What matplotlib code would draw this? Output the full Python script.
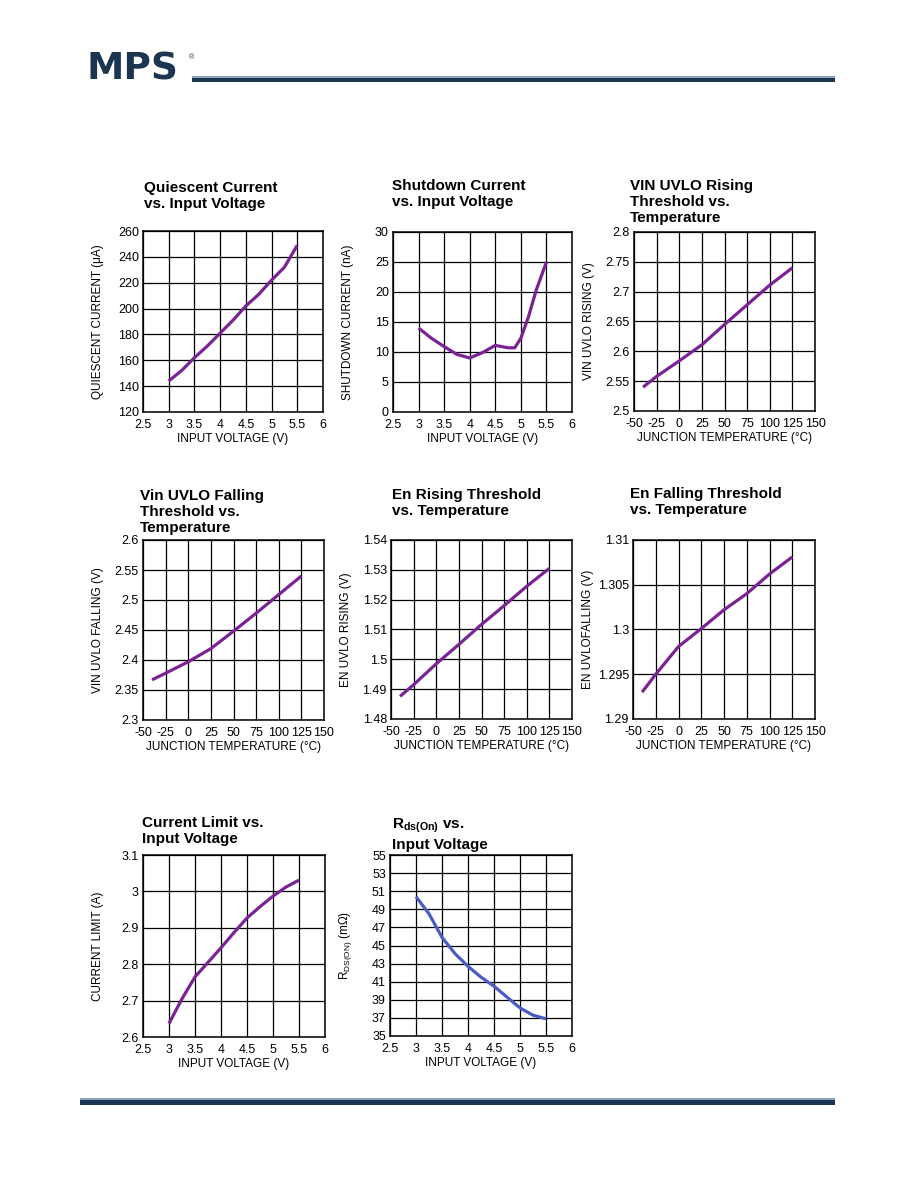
import matplotlib
matplotlib.use("Agg")
import matplotlib.pyplot as plt
import matplotlib.transforms as mtransforms
from matplotlib.patches import Rectangle
import numpy as np

plt.rcParams['font.family'] = ['Liberation Sans', 'DejaVu Sans']
plt.rcParams['mathtext.fontset'] = 'custom'
plt.rcParams['mathtext.rm'] = 'Liberation Sans'
plt.rcParams['mathtext.bf'] = 'Liberation Sans:bold'
plt.rcParams['mathtext.it'] = 'Liberation Sans:italic'

# ---------------- data ----------------
vin_q = [3.0, 3.25, 3.5, 3.75, 4.0, 4.25, 4.5, 4.75, 5.0, 5.25, 5.5]
iq_ua = [144, 152, 162, 171, 181, 191, 202, 211, 222, 232, 249]

vin_sd = [3.0, 3.25, 3.5, 3.75, 4.0, 4.25, 4.5, 4.75, 4.88, 5.0, 5.15, 5.3, 5.5]
isd_na = [14.0, 12.3, 10.9, 9.6, 9.0, 9.9, 11.1, 10.7, 10.7, 12.3, 15.9, 20.3, 25.0]

temp = [-40, -25, 0, 25, 50, 75, 100, 125]
uvlo_rise = [2.540, 2.558, 2.584, 2.611, 2.645, 2.678, 2.711, 2.740]
uvlo_fall = [2.367, 2.378, 2.397, 2.419, 2.448, 2.478, 2.509, 2.540]
en_rise = [1.4876, 1.4915, 1.4985, 1.5050, 1.5117, 1.5180, 1.5245, 1.5305]
en_fall = [1.2930, 1.2950, 1.2981, 1.3001, 1.3022, 1.3040, 1.3062, 1.3081]

vin_cl = [3.0, 3.25, 3.5, 3.75, 4.0, 4.25, 4.5, 4.75, 5.0, 5.25, 5.5]
ilim_a = [2.637, 2.705, 2.765, 2.805, 2.845, 2.887, 2.927, 2.958, 2.987, 3.012, 3.031]

vin_r = [3.0, 3.25, 3.5, 3.75, 4.0, 4.25, 4.5, 4.75, 5.0, 5.25, 5.5]
rds_mohm = [50.4, 48.5, 45.9, 44.1, 42.7, 41.5, 40.5, 39.3, 38.1, 37.3, 36.9]

vin_ticks = [2.5, 3, 3.5, 4, 4.5, 5, 5.5, 6]
temp_ticks = [-50, -25, 0, 25, 50, 75, 100, 125, 150]

W, H = 918, 1188
fig = plt.figure(figsize=(W / 100, H / 100), dpi=100)

PURPLE = '#7a2394'
BLUE = '#4a5cc4'
NAVY = '#1c3550'


def rect(l, t, r, b):
    return [l / W, 1 - b / H, (r - l) / W, (b - t) / H]


def fmt(v):
    s = f"{v:.4f}".rstrip('0').rstrip('.')
    return s


charts = [
    dict(box=(143, 231, 323, 412), x=vin_q, y=iq_ua, xt=vin_ticks, yt=np.arange(120, 261, 20),
         title="Quiescent Current\nvs. Input Voltage", tpos=(144, 189),
         ylabel="QUIESCENT CURRENT (\u03bcA)", xlabel="INPUT VOLTAGE (V)", color=PURPLE),
    dict(box=(393, 232, 572, 412), x=vin_sd, y=isd_na, xt=vin_ticks, yt=np.arange(0, 31, 5),
         title="Shutdown Current\nvs. Input Voltage", tpos=(392, 187),
         ylabel="SHUTDOWN CURRENT (nA)", xlabel="INPUT VOLTAGE (V)", color=PURPLE),
    dict(box=(634, 232, 815, 411), x=temp, y=uvlo_rise, xt=temp_ticks,
         yt=[2.5, 2.55, 2.6, 2.65, 2.7, 2.75, 2.8],
         title="VIN UVLO Rising\nThreshold vs.\nTemperature", tpos=(630, 187),
         ylabel="VIN UVLO RISING (V)", xlabel="JUNCTION TEMPERATURE (\u00b0C)", color=PURPLE),
    dict(box=(143, 540, 324, 720), x=temp, y=uvlo_fall, xt=temp_ticks,
         yt=[2.3, 2.35, 2.4, 2.45, 2.5, 2.55, 2.6],
         title="Vin UVLO Falling\nThreshold vs.\nTemperature", tpos=(140, 497),
         ylabel="VIN UVLO FALLING (V)", xlabel="JUNCTION TEMPERATURE (\u00b0C)", color=PURPLE),
    dict(box=(391, 540, 572, 719), x=temp, y=en_rise, xt=temp_ticks,
         yt=[1.48, 1.49, 1.5, 1.51, 1.52, 1.53, 1.54],
         title="En Rising Threshold\nvs. Temperature", tpos=(392, 496),
         ylabel="EN UVLO RISING (V)", xlabel="JUNCTION TEMPERATURE (\u00b0C)", color=PURPLE),
    dict(box=(633, 540, 815, 719), x=temp, y=en_fall, xt=temp_ticks,
         yt=[1.29, 1.295, 1.3, 1.305, 1.31],
         title="En Falling Threshold\nvs. Temperature", tpos=(630, 495),
         ylabel="EN UVLOFALLING (V)", xlabel="JUNCTION TEMPERATURE (\u00b0C)", color=PURPLE),
    dict(box=(143, 855, 325, 1037), x=vin_cl, y=ilim_a, xt=vin_ticks,
         yt=[2.6, 2.7, 2.8, 2.9, 3.0, 3.1],
         title="Current Limit vs.\nInput Voltage", tpos=(142, 824),
         ylabel="CURRENT LIMIT (A)", xlabel="INPUT VOLTAGE (V)", color=PURPLE),
    dict(box=(390, 855, 572, 1036), x=vin_r, y=rds_mohm, xt=vin_ticks,
         yt=np.arange(35, 56, 2),
         title=r"$\mathbf{R_{ds(On)}}$ vs." + "\nInput Voltage", tpos=(392, 825),
         ylabel=r"R$_{\mathrm{DS(ON)}}$ (m$\Omega$)", xlabel="INPUT VOLTAGE (V)", color=BLUE),
]

shift_up = mtransforms.ScaledTranslation(0, 3 / 100, fig.dpi_scale_trans)

for c in charts:
    l, t, r, b = c['box']
    ax = fig.add_axes(rect(l, t, r, b))
    ax.plot(c['x'], c['y'], color=c['color'], lw=2.3, solid_capstyle='butt')
    xt = list(c['xt']); yt = list(c['yt'])
    ax.set_xlim(xt[0], xt[-1])
    ax.set_ylim(yt[0], yt[-1])
    ax.set_xticks(xt)
    ax.set_yticks(yt)
    ax.set_xticklabels([fmt(v) for v in xt], fontsize=9)
    ax.set_yticklabels([fmt(v) for v in yt], fontsize=9)
    for lab in ax.get_yticklabels():
        lab.set_transform(lab.get_transform() + shift_up)
    ax.grid(True, color='black', lw=0.9)
    ax.set_axisbelow(True)
    for s in ax.spines.values():
        s.set_linewidth(1.1)
        s.set_color('black')
    ax.tick_params(length=0)
    ax.tick_params(axis='x', pad=5)
    ax.tick_params(axis='y', pad=3)
    # title
    tx, ty = c['tpos']
    fig.text(tx / W, 1 - (ty - 8) / H, c['title'], fontsize=11, fontweight='bold',
             ha='left', va='top', linespacing=1.2)
    # axis labels
    fig.text(((l + r) / 2) / W, 1 - (b + 27) / H, c['xlabel'], fontsize=8.5,
             ha='center', va='center')
    fig.text((l - 45) / W, 1 - ((t + b) / 2) / H, c['ylabel'], fontsize=8.5,
             ha='center', va='center', rotation=90)

# header logo & rules
fig.text(87 / W, 1 - 70 / H, "MPS", fontsize=27, fontweight='bold', color=NAVY,
         family='DejaVu Sans', ha='left', va='center')
fig.text(189 / W, 1 - 58 / H, "\u00ae", fontsize=5, color=NAVY, ha='left', va='center')


def bar(x0, y0, x1, y1, color):
    fig.add_artist(Rectangle((x0 / W, 1 - y1 / H), (x1 - x0) / W, (y1 - y0) / H,
                             transform=fig.transFigure, facecolor=color,
                             edgecolor='none'))


bar(192, 76, 835, 78, '#8fa4bc')
bar(192, 78, 835, 82, NAVY)
bar(80, 1098, 835, 1100, '#8fa4bc')
bar(80, 1100, 835, 1105, NAVY)

fig.savefig("out.png", dpi=100)
